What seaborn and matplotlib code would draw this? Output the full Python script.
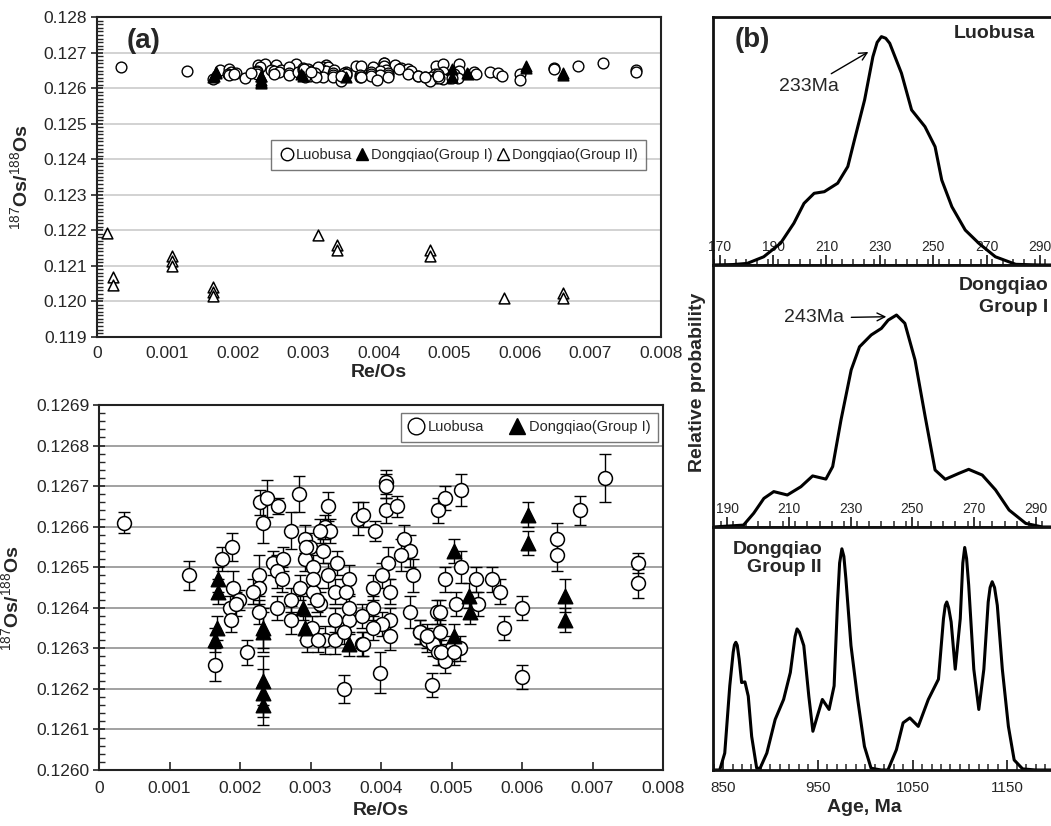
import numpy as np
import pandas as pd
import matplotlib
matplotlib.use("Agg")
import matplotlib.pyplot as plt
import seaborn as sns
from matplotlib.lines import Line2D
from matplotlib.ticker import FixedLocator, MultipleLocator

# ---------------- data ----------------
luo_x = [0.00035, 0.00128, 0.00165, 0.00175, 0.00188, 0.00190, 0.00186, 0.00187, 0.00198, 0.00210,
         0.00228, 0.00238, 0.00232, 0.00227, 0.00227, 0.00227, 0.00219, 0.00254, 0.00283, 0.00247,
         0.00261, 0.00252, 0.00259, 0.00252, 0.00273, 0.00273, 0.00273, 0.00285, 0.00292, 0.00299,
         0.00292, 0.00304, 0.00304, 0.00314, 0.00302, 0.00295, 0.00325, 0.00321, 0.00328, 0.00318,
         0.00325, 0.00337, 0.00335, 0.00335, 0.00321, 0.00335, 0.00347, 0.00354, 0.00351, 0.00354,
         0.00368, 0.00375, 0.00392, 0.00407, 0.00407, 0.00407, 0.00423, 0.00481, 0.00491, 0.00513,
         0.00432, 0.00441, 0.00429, 0.00410, 0.00401, 0.00446, 0.00389, 0.00413, 0.00389, 0.00441,
         0.00479, 0.00373, 0.00413, 0.00401, 0.00389, 0.00413, 0.00373, 0.00455, 0.00465, 0.00474,
         0.00481, 0.00398, 0.00472, 0.00514, 0.00491, 0.00506, 0.00484, 0.00535, 0.00538, 0.00557,
         0.00569, 0.00574, 0.00600, 0.00600, 0.00500, 0.00512, 0.00491, 0.00649, 0.00649, 0.00682,
         0.00718, 0.00765, 0.00765, 0.00194, 0.00294, 0.00314, 0.00309, 0.00311, 0.00304, 0.00354,
         0.00485, 0.00503, 0.00455, 0.00465, 0.00484, 0.00375, 0.00347]
luo_y = [0.12661, 0.12648, 0.12626, 0.12652, 0.12655, 0.12645, 0.12640, 0.12637, 0.12642, 0.12629,
         0.12666, 0.12667, 0.12661, 0.12648, 0.12645, 0.12639, 0.12644, 0.12665, 0.12668, 0.12651,
         0.12652, 0.12649, 0.12647, 0.12640, 0.12659, 0.12642, 0.12637, 0.12645, 0.12657, 0.12655,
         0.12652, 0.12650, 0.12644, 0.12641, 0.12635, 0.12632, 0.12665, 0.12660, 0.12659, 0.12654,
         0.12648, 0.12651, 0.12644, 0.12637, 0.12632, 0.12632, 0.12620, 0.12647, 0.12644, 0.12637,
         0.12662, 0.12663, 0.12659, 0.12671, 0.12670, 0.12664, 0.12665, 0.12664, 0.12667, 0.12669,
         0.12657, 0.12654, 0.12653, 0.12651, 0.12648, 0.12648, 0.12645, 0.12644, 0.12640, 0.12639,
         0.12639, 0.12638, 0.12637, 0.12636, 0.12635, 0.12633, 0.12631, 0.12634, 0.12632, 0.12631,
         0.12629, 0.12624, 0.12621, 0.12650, 0.12647, 0.12641, 0.12639, 0.12647, 0.12641, 0.12647,
         0.12644, 0.12635, 0.12640, 0.12623, 0.12630, 0.12630, 0.12627, 0.12657, 0.12653, 0.12664,
         0.12672, 0.12651, 0.12646, 0.12641, 0.12655, 0.12659, 0.12642, 0.12632, 0.12647, 0.12640,
         0.12629, 0.12629, 0.12634, 0.12633, 0.12634, 0.12631, 0.12634]
luo_err = [0.000025, 0.000035, 0.000040, 0.000030, 0.000035, 0.000040, 0.000030, 0.000030, 0.000025, 0.000030,
           0.000030, 0.000045, 0.000050, 0.000050, 0.000040, 0.000030, 0.000030, 0.000020, 0.000045, 0.000030,
           0.000030, 0.000040, 0.000030, 0.000030, 0.000045, 0.000030, 0.000035, 0.000030, 0.000035, 0.000035,
           0.000030, 0.000030, 0.000030, 0.000030, 0.000030, 0.000030, 0.000035, 0.000030, 0.000030, 0.000030,
           0.000030, 0.000030, 0.000030, 0.000030, 0.000035, 0.000035, 0.000035, 0.000035, 0.000030, 0.000035,
           0.000040, 0.000030, 0.000025, 0.000030, 0.000030, 0.000030, 0.000025, 0.000030, 0.000030, 0.000040,
           0.000035, 0.000040, 0.000040, 0.000040, 0.000030, 0.000040, 0.000030, 0.000030, 0.000030, 0.000040,
           0.000030, 0.000030, 0.000030, 0.000030, 0.000030, 0.000035, 0.000030, 0.000030, 0.000030, 0.000030,
           0.000030, 0.000050, 0.000030, 0.000040, 0.000030, 0.000030, 0.000030, 0.000030, 0.000030, 0.000030,
           0.000030, 0.000030, 0.000030, 0.000030, 0.000030, 0.000030, 0.000030, 0.000040, 0.000040, 0.000035,
           0.000060, 0.000025, 0.000035, 0.000030, 0.000030, 0.000030, 0.000030, 0.000030, 0.000030, 0.000030,
           0.000030, 0.000030, 0.000030, 0.000030, 0.000030, 0.000030, 0.000030]

g1_x = [0.00169, 0.00169, 0.00167, 0.00165, 0.00233, 0.00233, 0.00233, 0.00233, 0.00233, 0.00290,
        0.00292, 0.00354, 0.00504, 0.00504, 0.00525, 0.00526, 0.00608, 0.00608, 0.00661, 0.00661]
g1_y = [0.12647, 0.12644, 0.12635, 0.12632, 0.12635, 0.12634, 0.12622, 0.12619, 0.12616, 0.12640,
        0.12635, 0.12631, 0.12654, 0.12633, 0.12643, 0.12639, 0.12663, 0.12656, 0.12643, 0.12637]
g1_err = [0.000030, 0.000030, 0.000030, 0.000030, 0.000050, 0.000050, 0.000060, 0.000060, 0.000050, 0.000030,
          0.000030, 0.000030, 0.000030, 0.000030, 0.000030, 0.000030, 0.000030, 0.000030, 0.000040, 0.000030]

g2_x = [0.00015, 0.00023, 0.00023, 0.00107, 0.00107, 0.00107, 0.00165, 0.00165, 0.00165,
        0.00314, 0.00341, 0.00341, 0.00473, 0.00473, 0.00577, 0.00661, 0.00661]
g2_y = [0.12192, 0.12069, 0.12046, 0.12126, 0.12112, 0.12099, 0.12041, 0.12027, 0.12015,
        0.12187, 0.12159, 0.12143, 0.12145, 0.12128, 0.12009, 0.12023, 0.12009]

lb_age = [167.5, 175, 180.3, 186.5, 192.8, 197.8, 201.6, 205.4, 209.2, 214.2, 218.0, 220.5, 224.3,
          227.4, 229.0, 230.6, 232.2, 233.7, 238.1, 241.9, 246.9, 250.7, 253.2, 257.0, 262.0, 267.1,
          273.3, 280.9, 290, 300.5]
lb_prob = [0, 0.002, 0.007, 0.036, 0.095, 0.183, 0.270, 0.314, 0.321, 0.358, 0.431, 0.548, 0.723,
           0.912, 0.975, 1.0, 0.993, 0.971, 0.840, 0.679, 0.606, 0.518, 0.372, 0.255, 0.153, 0.095,
           0.036, 0.003, 0, 0]

d1_age = [185.4, 195.3, 198.6, 201.9, 205.1, 209.5, 213.9, 217.7, 222.0, 224.2, 226.9, 230.2, 232.9,
          236.7, 240.0, 242.2, 244.9, 247.6, 250.9, 254.2, 257.4, 260.7, 265.1, 268.3, 272.7, 277.0,
          281.4, 286.8, 292.2, 300.5]
d1_prob = [0, 0.009, 0.065, 0.135, 0.167, 0.151, 0.190, 0.241, 0.226, 0.285, 0.505, 0.741, 0.850,
           0.906, 0.937, 0.976, 1.0, 0.961, 0.788, 0.520, 0.269, 0.225, 0.253, 0.272, 0.245, 0.175,
           0.080, 0.017, 0, 0]

d2_age = [839.4, 846.5, 851.8, 857.1, 860.7, 862.0, 863.5, 865.0, 867.0, 869.6, 873.1, 876.6, 880.2,
          885.5, 889.1, 896.2, 905.0, 913.9, 921.0, 926.0, 928.1, 930.5, 935.2, 940.5, 944.8, 949.5,
          954.8, 961.9, 967.2, 970.8, 973.0, 975.4, 977.5, 979.6, 985.0, 992.1, 999.2, 1006.2, 1016.9,
          1024.0, 1032.9, 1040.0, 1047.1, 1056.0, 1066.6, 1077.3, 1082.6, 1084.5, 1086.1, 1088.0,
          1090.7, 1095.0, 1100.3, 1103.0, 1105.0, 1107.0, 1109.2, 1114.6, 1119.9, 1125.2, 1129.8,
          1131.8, 1134.0, 1136.5, 1139.4, 1144.7, 1151.1, 1157.2, 1166.1, 1180, 1214]
d2_prob = [0, 0, 0.076, 0.378, 0.529, 0.562, 0.574, 0.560, 0.498, 0.393, 0.396, 0.332, 0.151,
           0.008, 0.008, 0.076, 0.227, 0.317, 0.438, 0.600, 0.634, 0.620, 0.559, 0.332, 0.174, 0.242,
           0.317, 0.272, 0.378, 0.755, 0.930, 0.994, 0.960, 0.861, 0.559, 0.317, 0.106, 0.008, 0,
           0, 0.091, 0.212, 0.234, 0.196, 0.317, 0.408, 0.680, 0.740, 0.755, 0.730,
           0.665, 0.453, 0.680, 0.930, 1.0, 0.950, 0.831, 0.453, 0.272, 0.453, 0.755,
           0.820, 0.846, 0.820, 0.740, 0.453, 0.196, 0.045, 0.005, 0, 0]

yticksA = [0.119, 0.120, 0.121, 0.122, 0.123, 0.124, 0.125, 0.126, 0.127, 0.128]
ylabA = ["0.119", "0.120", "0.121", "0.122", "0.123", "0.124", "0.125", "0.126", "0.127", "0.128"]
yticksB = [0.1260, 0.1261, 0.1262, 0.1263, 0.1264, 0.1265, 0.1266, 0.1267, 0.1268, 0.1269]
ylabB = ["0.1260", "0.1261", "0.1262", "0.1263", "0.1264", "0.1265", "0.1266", "0.1267", "0.1268", "0.1269"]
xticksRe = [0, 0.001, 0.002, 0.003, 0.004, 0.005, 0.006, 0.007, 0.008]
xlabRe = ["0", "0.001", "0.002", "0.003", "0.004", "0.005", "0.006", "0.007", "0.008"]
ticks1 = [170, 190, 210, 230, 250, 270, 290]
ticks2 = [190, 210, 230, 250, 270, 290]
ticks3 = [850, 950, 1050, 1150]

# ---------------- style ----------------
sns.set_style("ticks")
plt.rcParams["font.family"] = ["Liberation Sans", "DejaVu Sans"]
plt.rcParams["mathtext.fontset"] = "custom"
plt.rcParams["mathtext.rm"] = "Liberation Sans"
plt.rcParams["mathtext.bf"] = "Liberation Sans:bold"

W, H = 1051, 826
fig = plt.figure(figsize=(W / 100, H / 100), dpi=100)
fig.patch.set_facecolor("white")


def box(l, t, r, b):
    return [l / W, 1 - b / H, (r - l) / W, (b - t) / H]


axA = fig.add_axes(box(96.7, 17.3, 661, 336.6))
axB = fig.add_axes(box(99, 405, 663, 770))
axP1 = fig.add_axes(box(713, 17, 1068, 265))
axP2 = fig.add_axes(box(713, 265, 1068, 527))
axP3 = fig.add_axes(box(713, 527, 1068, 770))

# ---------------- panel (a) top ----------------
for y in yticksA:
    axA.axhline(y, color="#d2d2d2", lw=1.4, zorder=0)
sns.scatterplot(x=g2_x, y=g2_y, marker="^", s=60, color="white", edgecolor="black",
                linewidth=1.1, ax=axA, zorder=3)
sns.scatterplot(x=luo_x, y=luo_y, marker="o", s=60, color="white", edgecolor="black",
                linewidth=1.0, ax=axA, zorder=3)
sns.scatterplot(x=g1_x, y=g1_y, marker="^", s=60, color="black", edgecolor="black",
                linewidth=1.0, ax=axA, zorder=4)
axA.set_xlim(0, 0.008)
axA.set_ylim(0.119, 0.128)
axA.yaxis.set_major_locator(FixedLocator(yticksA))
axA.set_yticklabels(ylabA)
axA.yaxis.set_minor_locator(MultipleLocator(0.0001))
axA.xaxis.set_major_locator(FixedLocator(xticksRe))
axA.set_xticklabels(xlabRe)
axA.tick_params(axis="y", which="major", direction="inout", length=8, width=1.2, labelsize=12.5, pad=3)
axA.tick_params(axis="y", which="minor", direction="in", length=4, width=1.0)
axA.tick_params(axis="x", which="major", direction="in", length=0, labelsize=12.5, pad=7)
axA.set_xlabel("Re/Os", fontsize=14, fontweight="bold", labelpad=2)
axA.set_ylabel(r"$^{187}$Os/$^{188}$Os", fontsize=14, fontweight="bold")
axA.yaxis.set_label_coords(-0.115, 0.5)
for s in axA.spines.values():
    s.set_linewidth(1.5)
    s.set_color("#222222")

hA = [Line2D([], [], marker="o", ls="", mfc="white", mec="black", ms=9),
      Line2D([], [], marker="^", ls="", mfc="black", mec="black", ms=9),
      Line2D([], [], marker="^", ls="", mfc="white", mec="black", ms=9)]
legA = axA.legend(hA, ["Luobusa", "Dongqiao(Group I)", "Dongqiao(Group II)"], ncol=3,
                  loc="upper right", bbox_to_anchor=(0.973, 0.616), frameon=True, fancybox=False,
                  fontsize=10.5, handletextpad=0.15, columnspacing=0.15, handlelength=1.0,
                  borderpad=0.55, borderaxespad=0)
legA.get_frame().set_edgecolor("#555555")
legA.get_frame().set_linewidth(1.0)

# ---------------- panel (a) bottom ----------------
for y in yticksB:
    axB.axhline(y, color="#9a9a9a", lw=1.3, zorder=0)
axB.errorbar(luo_x, luo_y, yerr=luo_err, fmt="none", ecolor="black", elinewidth=1.0,
             capsize=4, capthick=1.0, zorder=2)
axB.errorbar(g1_x, g1_y, yerr=g1_err, fmt="none", ecolor="black", elinewidth=1.0,
             capsize=4, capthick=1.0, zorder=2)
sns.scatterplot(x=luo_x, y=luo_y, marker="o", s=100, color="white", edgecolor="black",
                linewidth=1.1, ax=axB, zorder=3)
sns.scatterplot(x=g1_x, y=g1_y, marker="^", s=110, color="black", edgecolor="black",
                linewidth=1.0, ax=axB, zorder=4)
axB.set_xlim(0, 0.008)
axB.set_ylim(0.1260, 0.1269)
axB.yaxis.set_major_locator(FixedLocator(yticksB))
axB.set_yticklabels(ylabB)
axB.yaxis.set_minor_locator(MultipleLocator(0.00002))
axB.xaxis.set_major_locator(FixedLocator(xticksRe))
axB.set_xticklabels(xlabRe)
axB.tick_params(axis="y", which="major", direction="inout", length=8, width=1.2, labelsize=12.5, pad=3)
axB.tick_params(axis="y", which="minor", direction="in", length=4, width=1.0)
axB.tick_params(axis="x", which="major", direction="in", length=6, width=1.2, labelsize=12.5, pad=8)
axB.set_xlabel("Re/Os", fontsize=14, fontweight="bold", labelpad=4)
axB.set_ylabel(r"$^{187}$Os/$^{188}$Os", fontsize=14, fontweight="bold")
axB.yaxis.set_label_coords(-0.135, 0.47)
for s in axB.spines.values():
    s.set_linewidth(1.5)
    s.set_color("#222222")

hB = [Line2D([], [], marker="o", ls="", mfc="white", mec="black", ms=12),
      Line2D([], [], marker="^", ls="", mfc="black", mec="black", ms=12)]
legB = axB.legend(hB, ["Luobusa", "Dongqiao(Group I)"], ncol=2, loc="upper right",
                  bbox_to_anchor=(0.991, 0.978), frameon=True, fancybox=False, fontsize=10.5,
                  handletextpad=0.3, columnspacing=1.8, handlelength=1.0, borderpad=0.5,
                  borderaxespad=0)
legB.get_frame().set_edgecolor("#555555")
legB.get_frame().set_linewidth(1.0)

# ---------------- panel (b) ----------------
def style_prob(ax, xlim, ylim, ticks, minor, inside):
    ax.set_xlim(*xlim)
    ax.set_ylim(*ylim)
    ax.set_yticks([])
    ax.xaxis.set_major_locator(FixedLocator(ticks))
    ax.xaxis.set_minor_locator(MultipleLocator(minor))
    ax.set_xticklabels([str(t) for t in ticks])
    if inside:
        ax.tick_params(axis="x", which="major", direction="in", length=7, width=1.3,
                       labelsize=10, pad=-18)
    else:
        ax.tick_params(axis="x", which="major", direction="in", length=7, width=1.3,
                       labelsize=11, pad=8)
    ax.tick_params(axis="x", which="minor", direction="in", length=4, width=1.1)
    for s in ax.spines.values():
        s.set_linewidth(2.0)
        s.set_color("#111111")
    ax.set_xlabel("")
    ax.set_ylabel("")


sns.lineplot(x=lb_age, y=lb_prob, ax=axP1, color="black", lw=2.2, sort=False, estimator=None)
style_prob(axP1, (167.5, 300.5), (0, 1.086), ticks1, 4, True)
sns.lineplot(x=d1_age, y=d1_prob, ax=axP2, color="black", lw=2.2, sort=False, estimator=None)
style_prob(axP2, (185.4, 300.5), (0, 1.236), ticks2, 4, True)
sns.lineplot(x=d2_age, y=d2_prob, ax=axP3, color="black", lw=2.2, sort=False, estimator=None)
style_prob(axP3, (839.4, 1214), (0, 1.092), ticks3, 10, False)

axP1.annotate("233Ma", xy=(225.7, 0.933), xytext=(203.4, 0.78), ha="center", va="center",
              fontsize=14, arrowprops=dict(arrowstyle="->", color="black", lw=1.0, shrinkA=2, shrinkB=0))
axP2.annotate("243Ma", xy=(241.6, 0.992), xytext=(218.1, 0.986), ha="center", va="center",
              fontsize=14, arrowprops=dict(arrowstyle="->", color="black", lw=1.0, shrinkA=3, shrinkB=0))

fig.text(994 / W, 1 - 34 / H, "Luobusa", ha="center", va="center", fontsize=14, fontweight="bold")
fig.text(1048 / W, 1 - 285 / H, "Dongqiao", ha="right", va="center", fontsize=14, fontweight="bold")
fig.text(1048 / W, 1 - 307 / H, "Group I", ha="right", va="center", fontsize=14, fontweight="bold")
fig.text(822 / W, 1 - 549 / H, "Dongqiao", ha="right", va="center", fontsize=14, fontweight="bold")
fig.text(822 / W, 1 - 567 / H, "Group II", ha="right", va="center", fontsize=14, fontweight="bold")
fig.text(697 / W, 1 - 382 / H, "Relative probability", ha="center", va="center", rotation=90,
         fontsize=14, fontweight="bold")
fig.text(864 / W, 1 - 807 / H, "Age, Ma", ha="center", va="center", fontsize=14, fontweight="bold")
fig.text(127 / W, 1 - 41 / H, "(a)", ha="left", va="center", fontsize=20, fontweight="bold")
fig.text(735 / W, 1 - 40 / H, "(b)", ha="left", va="center", fontsize=20, fontweight="bold")

fig.savefig("out.png", dpi=100, facecolor="white")
